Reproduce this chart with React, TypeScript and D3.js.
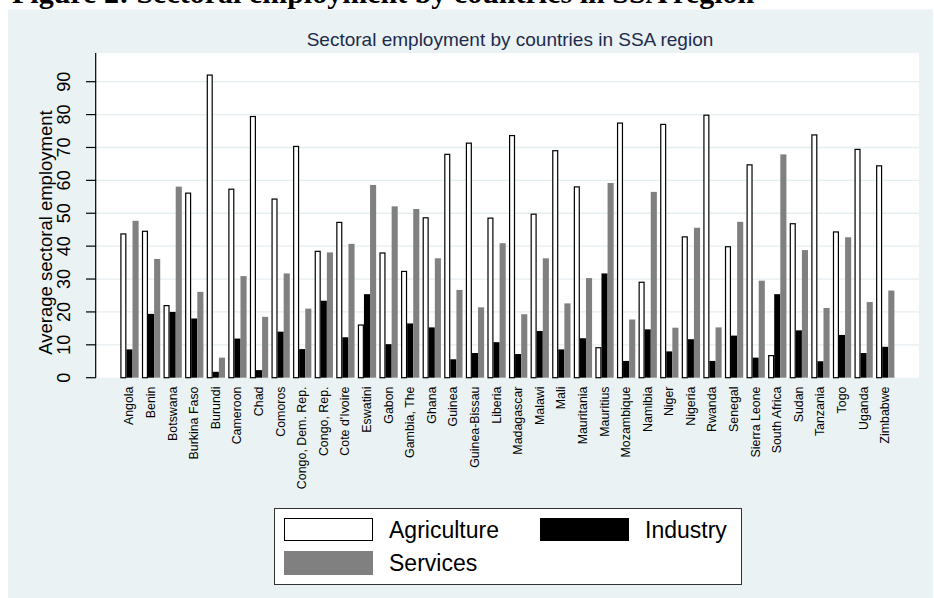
import React from "react";
import * as d3 from "d3";

const countries = [
  "Angola", "Benin", "Botswana", "Burkina Faso", "Burundi", "Cameroon", "Chad", "Comoros",
  "Congo, Dem. Rep.", "Congo, Rep.", "Cote d'Ivoire", "Eswatini", "Gabon", "Gambia, The", "Ghana",
  "Guinea", "Guinea-Bissau", "Liberia", "Madagascar", "Malawi", "Mali", "Mauritania", "Mauritius",
  "Mozambique", "Namibia", "Niger", "Nigeria", "Rwanda", "Senegal", "Sierra Leone", "South Africa",
  "Sudan", "Tanzania", "Togo", "Uganda", "Zimbabwe",
];

const agriculture = [43.9, 44.7, 22.1, 56.3, 92.2, 57.5, 79.6, 54.5, 70.5, 38.6, 47.4, 16.2, 38.1, 32.5, 48.8, 68.1, 71.5, 48.7, 73.8, 49.9, 69.2, 58.2, 9.3, 77.6, 29.2, 77.2, 43.0, 80.0, 40.0, 64.9, 6.9, 47.0, 74.0, 44.5, 69.6, 64.6];
const industry = [8.6, 19.4, 20.0, 18.0, 1.8, 11.9, 2.3, 14.0, 8.7, 23.4, 12.3, 25.4, 10.2, 16.5, 15.3, 5.6, 7.5, 10.8, 7.2, 14.2, 8.6, 12.0, 31.7, 5.1, 14.7, 8.0, 11.7, 5.1, 12.8, 6.1, 25.4, 14.4, 5.0, 13.0, 7.5, 9.4];
const services = [47.7, 36.1, 58.1, 26.1, 6.1, 30.9, 18.5, 31.7, 21.0, 38.1, 40.7, 58.6, 52.1, 51.3, 36.3, 26.7, 21.4, 40.9, 19.3, 36.3, 22.6, 30.3, 59.2, 17.7, 56.5, 15.2, 45.6, 15.3, 47.4, 29.5, 67.9, 38.8, 21.2, 42.7, 23.0, 26.5];

const seriesNames = ["Agriculture", "Industry", "Services"];
const yTicks = [0, 10, 20, 30, 40, 50, 60, 70, 80, 90];

const FONT = "'Liberation Sans', Arial, Helvetica, sans-serif";

export default function App() {
  const W = 934, H = 598;
  const plotL = 95.7, plotR = 919, plotT = 53, plotB = 377.7;

  const y = d3.scaleLinear().domain([0, 90]).range([plotB, 81.7]);
  const x = d3.scaleBand<string>().domain(countries).range([plotL, plotR]).paddingInner(0.152).paddingOuter(1.14);
  const xs = d3.scaleBand<string>().domain(seriesNames).range([0, x.bandwidth()]).padding(0);

  const seriesData: Record<string, number[]> = {
    Agriculture: agriculture,
    Industry: industry,
    Services: services,
  };
  const fills: Record<string, string> = { Agriculture: "#ffffff", Industry: "#000000", Services: "#808080" };

  return (
    <svg width={W} height={H} style={{ position: "absolute", left: 0, top: 0, background: "#ffffff" }}>
      <text x={12} y={2.5} fontFamily="'Liberation Serif', 'Times New Roman', serif" fontWeight="bold" fontSize={30} fill="#000">
        Figure 2: Sectoral employment by countries in SSA region
      </text>
      <rect x={8} y={9.5} width={925} height={H - 9.5} fill="#EAF2F3" />
      <rect x={plotL} y={plotT} width={plotR - plotL} height={plotB - plotT} fill="#ffffff" />
      {yTicks.filter((t) => t > 0).map((t) => (
        <line key={"g" + t} x1={plotL} x2={plotR} y1={y(t)} y2={y(t)} stroke="#E4EDF0" strokeWidth={1.3} />
      ))}
      <text x={510} y={46} textAnchor="middle" fontFamily={FONT} fontSize={19} fill="#1E2B4E">
        Sectoral employment by countries in SSA region
      </text>

      {countries.map((c, i) => (
        <g key={c}>
          {seriesNames.map((s) => {
            const v = seriesData[s][i];
            const bx = (x(c) as number) + (xs(s) as number);
            const bw = xs.bandwidth();
            if (s === "Agriculture") {
              return (
                <rect key={s} x={bx + 0.6} y={y(v) + 0.6} width={bw - 1.2} height={plotB - y(v) - 0.6}
                  fill="#fff" stroke="#000" strokeWidth={1.2} />
              );
            }
            return <rect key={s} x={bx} y={y(v)} width={bw} height={plotB - y(v)} fill={fills[s]} />;
          })}
        </g>
      ))}

      <line x1={plotL} x2={plotL} y1={plotT} y2={plotB} stroke="#000" strokeWidth={1.2} />
      {yTicks.map((t) => (
        <g key={"t" + t}>
          <line x1={86} x2={plotL} y1={y(t)} y2={y(t)} stroke="#000" strokeWidth={1.2} />
          <text transform={`translate(70,${y(t)}) rotate(-90)`} textAnchor="middle" fontFamily={FONT} fontSize={18} fill="#000">
            {t}
          </text>
        </g>
      ))}
      <text transform={`translate(52,232.5) rotate(-90)`} textAnchor="middle" fontFamily={FONT} fontSize={18.5} fill="#000">
        Average sectoral employment
      </text>

      {countries.map((c) => (
        <text key={"l" + c}
          transform={`translate(${(x(c) as number) + x.bandwidth() / 2},386.5) rotate(-90)`}
          textAnchor="end" dominantBaseline="central" fontFamily={FONT} fontSize={12.4} fill="#000">
          {c}
        </text>
      ))}

      <rect x={274.5} y={508.5} width={467} height={76} fill="#fff" stroke="#333" strokeWidth={1} />
      <rect x={284.5} y={518.5} width={88} height={22} fill="#fff" stroke="#000" strokeWidth={1} />
      <text x={389} y={538} fontFamily={FONT} fontSize={23} fill="#000">Agriculture</text>
      <rect x={540} y={518} width={89} height={23} fill="#000" />
      <text x={645} y={538} fontFamily={FONT} fontSize={23} fill="#000">Industry</text>
      <rect x={284} y={551} width={89} height={24} fill="#808080" />
      <text x={389} y={571} fontFamily={FONT} fontSize={23} fill="#000">Services</text>
    </svg>
  );
}
